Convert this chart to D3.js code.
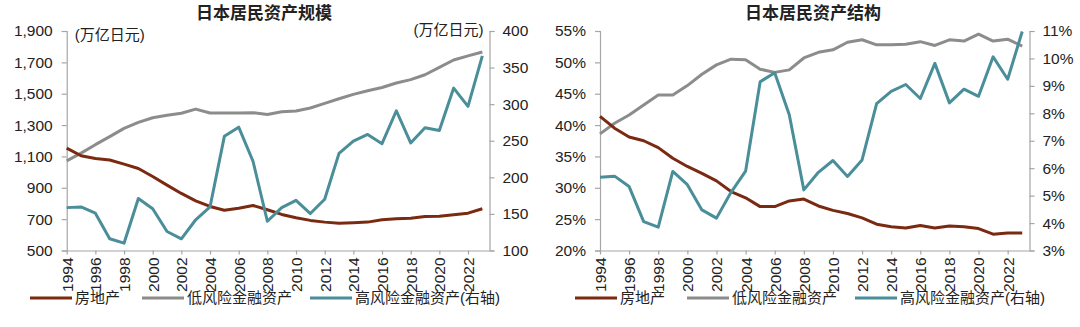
<!DOCTYPE html>
<html><head><meta charset="utf-8">
<script src="https://cdn.jsdelivr.net/npm/d3@7"></script>
<style>
body{margin:0;background:#fff;}
text{font-family:"Liberation Sans",Arial,"Noto Sans CJK SC",sans-serif;fill:#222;}
</style></head>
<body><svg id="c" width="1080" height="327"></svg>
<script>
const years = d3.range(1994, 2024);
const seriesNames = ["房地产", "低风险金融资产", "高风险金融资产(右轴)"];
const colors = ["#7B2A12", "#8C8C8C", "#4A8E99"];

// Left chart: scale (万亿日元)
const scaleRealEstate = [1153,1104,1087,1077,1051,1023,972,917,864,817,781,757,770,787,760,730,709,692,681,674,677,681,696,702,706,717,719,728,738,766];
const scaleLowRisk = [1072,1121,1175,1226,1279,1317,1347,1362,1375,1402,1377,1377,1377,1379,1368,1385,1390,1409,1438,1468,1496,1519,1540,1568,1590,1621,1668,1715,1741,1766];
const scaleHighRisk = [158.6,159.5,151,116,110,171,157,126,116,142,159.5,256,268.6,222,140,158.6,168.6,150.5,170,232.7,249.5,258.6,246,291,247,267.7,264,322,297,366];
const leftTicksL = [500,700,900,1100,1300,1500,1700,1900];
const leftTicksR = [100,150,200,250,300,350,400];

// Right chart: structure (%)
const structRealEstate = [41.4,39.5,38.1,37.5,36.4,34.7,33.4,32.3,31.1,29.4,28.4,27.0,27.0,27.9,28.2,27.1,26.4,25.9,25.2,24.2,23.8,23.6,24.0,23.6,23.9,23.8,23.5,22.6,22.8,22.8];
const structLowRisk = [38.6,40.3,41.6,43.2,44.8,44.8,46.3,48.1,49.6,50.5,50.4,48.9,48.4,48.8,50.7,51.6,52.0,53.2,53.6,52.8,52.8,52.9,53.3,52.7,53.6,53.4,54.5,53.4,53.7,52.6];
const structHighRisk = [5.67,5.71,5.33,4.05,3.85,5.88,5.40,4.48,4.18,5.12,5.89,9.15,9.48,7.95,5.21,5.85,6.28,5.70,6.30,8.35,8.80,9.05,8.54,9.82,8.38,8.88,8.62,10.06,9.24,10.98];
const rightTicksL = [20,25,30,35,40,45,50,55];
const rightTicksR = [3,4,5,6,7,8,9,10,11];
const xTickYears = d3.range(1994, 2023, 2);

const svg = d3.select("#c");

function drawChart(cfg){
  const g = svg.append("g");
  const x = d3.scaleLinear().domain([1994, 2023.5]).range([cfg.x0, cfg.x1]);
  const yL = d3.scaleLinear().domain(cfg.domL).range([cfg.yb, cfg.yt]);
  const yR = d3.scaleLinear().domain(cfg.domR).range([cfg.yb, cfg.yt]);
  const axisColor = "#A6A6A6";

  const axL = d3.axisLeft(yL).tickValues(cfg.ticksL).tickSize(5).tickPadding(9).tickFormat(cfg.fmtL);
  const gL = g.append("g").attr("transform", `translate(${cfg.x0},0)`).call(axL);
  const axR = d3.axisRight(yR).tickValues(cfg.ticksR).tickSize(5).tickPadding(8).tickFormat(cfg.fmtR);
  const gR = g.append("g").attr("transform", `translate(${cfg.x1},0)`).call(axR);
  const axX = d3.axisBottom(x).tickValues(xTickYears).tickSize(4).tickFormat(d3.format("d"));
  const gX = g.append("g").attr("transform", `translate(0,${cfg.yb})`).call(axX);
  gX.selectAll("text").attr("transform","rotate(-90)").attr("text-anchor","end")
    .attr("x",-7).attr("y",0).attr("dy","0.35em");
  [gL,gR,gX].forEach(a=>{
    a.selectAll("path.domain").attr("stroke",axisColor).attr("stroke-width",1.2);
    a.selectAll(".tick line").attr("stroke",axisColor).attr("stroke-width",1.2);
    a.selectAll("text").style("font-size","15.5px").attr("fill","#222");
  });
  gX.select("path.domain").attr("d", `M${cfg.x0},0.5H${cfg.x1}`);

  const lines = [
    {data: cfg.s1, y: yL, c: colors[0]},
    {data: cfg.s2, y: yL, c: colors[1]},
    {data: cfg.s3, y: yR, c: colors[2]}
  ];
  [1,0,2].forEach(i=>{
    const L = lines[i];
    g.append("path").datum(L.data)
      .attr("fill","none").attr("stroke",L.c).attr("stroke-width",3)
      .attr("stroke-linejoin","round")
      .attr("d", d3.line().x((d,j)=>x(years[j])).y(d=>L.y(d)));
  });

  g.append("text").attr("x",cfg.titleX).attr("y",19).attr("text-anchor","middle")
    .style("font-size","17px").style("font-weight","bold").attr("fill","#111").text(cfg.title);
  if(cfg.unitL){
    g.append("text").attr("x",cfg.x0+8).attr("y",40).style("font-size","15px").text(cfg.unitL);
    g.append("text").attr("x",cfg.x1-6).attr("y",35).attr("text-anchor","end").style("font-size","15px").text(cfg.unitR);
  }
  cfg.legend.forEach((lx,i)=>{
    g.append("line").attr("x1",lx).attr("x2",lx+42).attr("y1",298).attr("y2",298)
      .attr("stroke",colors[i]).attr("stroke-width",3);
    g.append("text").attr("x",lx+45).attr("y",298).attr("dy","0.35em")
      .style("font-size","15px").text(seriesNames[i]);
  });
}

drawChart({
  x0: 66.7, x1: 489.5, yb: 250.5, yt: 31,
  domL:[500,1900], domR:[100,400],
  ticksL: leftTicksL, ticksR: leftTicksR,
  fmtL: d3.format(","), fmtR: d3.format("d"),
  s1: scaleRealEstate, s2: scaleLowRisk, s3: scaleHighRisk,
  title: "日本居民资产规模", titleX: 264,
  unitL: "(万亿日元)", unitR: "(万亿日元)",
  legend: [30, 142, 310]
});
drawChart({
  x0: 600, x1: 1029.5, yb: 250.5, yt: 31,
  domL:[20,55], domR:[3,11],
  ticksL: rightTicksL, ticksR: rightTicksR,
  fmtL: d=>d+"%", fmtR: d=>d+"%",
  s1: structRealEstate, s2: structLowRisk, s3: structHighRisk,
  title: "日本居民资产结构", titleX: 813,
  legend: [575, 687, 855]
});
</script></body></html>
